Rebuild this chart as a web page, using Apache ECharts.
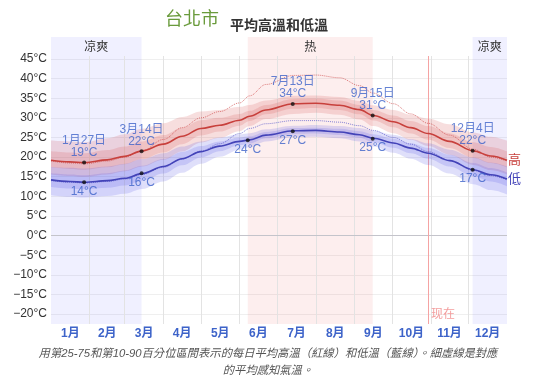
<!DOCTYPE html>
<html><head><meta charset="utf-8">
<script src="https://cdn.jsdelivr.net/npm/echarts@6/dist/echarts.min.js"></script>
<style>html,body{margin:0;padding:0;background:#fff}#c{width:539px;height:387px}</style>
</head><body><div id="c"></div>
<script>
// ---- data (day of year, 0 = 1 Jan) ----
const days      = [0, 15, 27, 45, 59, 73, 90, 105, 120, 135, 151, 159, 172, 194, 212, 231, 247, 258, 274, 288, 302, 319, 338, 352, 365];
const highMean  = [19.2, 18.8, 18.6, 19.3, 20.2, 21.6, 23.3, 25.3, 27.3, 28.1, 29.4, 30.4, 32.0, 33.6, 33.7, 33.2, 32.1, 30.6, 29.0, 27.5, 26.0, 24.0, 21.6, 20.3, 19.2];
const highP10   = [15.6, 15.2, 15.0, 15.6, 16.4, 17.6, 19.3, 21.4, 23.7, 24.9, 26.6, 27.9, 29.7, 31.0, 31.3, 30.8, 29.6, 27.9, 26.1, 24.4, 22.8, 20.6, 18.0, 16.7, 15.6];
const highP25   = [17.4, 17.0, 16.8, 17.4, 18.2, 19.5, 21.2, 23.3, 25.5, 26.5, 28.0, 29.2, 30.9, 32.3, 32.5, 32.0, 30.9, 29.3, 27.6, 26.0, 24.4, 22.3, 19.8, 18.5, 17.4];
const highP75   = [21.5, 21.2, 21.0, 21.8, 22.7, 24.0, 25.6, 27.5, 29.4, 30.0, 31.0, 31.8, 33.3, 34.8, 34.9, 34.4, 33.3, 32.0, 30.6, 29.2, 27.9, 26.1, 23.8, 22.6, 21.5];
const highP90   = [24.2, 24.0, 23.8, 24.8, 25.8, 27.2, 28.6, 30.2, 31.6, 32.0, 32.8, 33.3, 34.4, 35.6, 35.7, 35.3, 34.3, 33.2, 32.0, 30.8, 29.8, 28.4, 26.3, 25.2, 24.2];
const lowMean   = [14.2, 13.8, 13.6, 14.0, 14.6, 15.8, 17.6, 19.6, 21.4, 22.8, 24.0, 24.4, 25.6, 26.7, 26.8, 26.4, 25.7, 24.8, 23.6, 22.3, 21.0, 19.1, 16.8, 15.5, 14.4];
const lowP10    = [10.3, 9.9, 9.7, 10.1, 10.7, 11.9, 13.8, 16.0, 18.3, 20.1, 21.9, 22.5, 24.0, 25.1, 25.2, 24.8, 24.0, 22.7, 21.1, 19.6, 18.0, 15.8, 13.1, 11.6, 10.5];
const lowP25    = [12.4, 12.0, 11.8, 12.2, 12.8, 14.0, 15.8, 17.9, 19.9, 21.5, 23.0, 23.5, 24.8, 25.9, 26.0, 25.6, 24.9, 23.8, 22.4, 21.0, 19.6, 17.6, 15.1, 13.8, 12.6];
const lowP75    = [15.9, 15.6, 15.4, 15.9, 16.6, 17.8, 19.5, 21.3, 22.8, 24.0, 25.0, 25.3, 26.4, 27.4, 27.5, 27.2, 26.6, 25.8, 24.7, 23.5, 22.3, 20.6, 18.5, 17.2, 16.1];
const lowP90    = [17.5, 17.3, 17.1, 17.6, 18.3, 19.5, 21.0, 22.7, 24.0, 25.0, 25.8, 26.1, 27.1, 28.0, 28.2, 27.9, 27.4, 26.7, 25.7, 24.6, 23.5, 21.9, 19.9, 18.6, 17.6];
const feelsHigh = [19.0, 18.5, 18.3, 19.0, 20.0, 21.6, 24.5, 27.5, 30.0, 31.6, 33.8, 35.6, 38.5, 40.8, 40.9, 40.2, 38.2, 36.3, 33.6, 31.0, 28.6, 25.6, 22.0, 20.0, 19.0];
const feelsLow  = [14.0, 13.6, 13.4, 13.8, 14.4, 15.6, 17.4, 19.5, 21.5, 23.4, 26.0, 27.3, 28.5, 29.3, 29.3, 28.9, 28.0, 26.8, 25.0, 23.3, 21.4, 19.2, 16.6, 15.3, 14.2];

const annoDays  = [26.5, 72.5, 157.5, 193.5, 257.5, 337.5];
const annoDates = ['1月27日', '3月14日', '', '7月13日', '9月15日', '12月4日'];
const annoHigh  = [18.6, 21.5, null, 33.5, 30.6, 21.6];
const annoLow   = [13.6, 15.9, 24.3, 26.6, 24.7, 16.8];

const seasons   = [[0, 72.5, '凉爽'], [157.5, 257.5, '热'], [337.5, 365, '凉爽']];
const nowDay    = 301.8;
const nowLabel  = '现在';

const monthLabels = ['1月','2月','3月','4月','5月','6月','7月','8月','9月','10月','11月','12月'];
const monthMids   = [15.5, 45, 74.5, 105, 135.5, 166, 196.5, 227.5, 258, 288.5, 319, 349.5];
const monthStarts = [31, 59, 90, 120, 151, 181, 212, 243, 273, 304, 334];
const yTicks      = [45, 40, 35, 30, 25, 20, 15, 10, 5, 0, -5, -10, -15, -20];

const titleMain = '台北市';
const titleSub  = '平均高溫和低溫';
const caption   = '用第25-75和第10-90百分位區間表示的每日平均高溫（紅線）和低溫（藍線）。細虛線是對應\n的平均感知氣溫。';

// ---- chart ----
const FONT = "'Liberation Sans','Noto Sans CJK TC',sans-serif";
const BLUE_TXT = '#3d63c9';
const RED = '#c8403c', BLUEL = '#4343b8';
const SM = 0.35;
const pts = a => days.map((d, i) => [d, a[i]]);
// band data is given as [value, day] with encode so that the value column is the stacked one
const ptsYX = a => days.map((d, i) => [a[i], d]);
const diffYX = (a, b) => days.map((d, i) => [+(a[i] - b[i]).toFixed(3), d]);

function band(lo, hi, name, color) {
  return [
    {type: 'line', stack: name, data: ptsYX(lo), encode: {x: 1, y: 0}, smooth: SM, smoothMonotone: 'x', symbol: 'none', silent: true,
     lineStyle: {opacity: 0}, z: 3},
    {type: 'line', stack: name, data: diffYX(hi, lo), encode: {x: 1, y: 0}, smooth: SM, smoothMonotone: 'x', symbol: 'none', silent: true,
     lineStyle: {opacity: 0}, areaStyle: {color: color, opacity: 1}, z: 3}
  ];
}
const redBand = 'rgba(214,80,80,0.19)';
const blueBand = 'rgba(80,80,225,0.18)';
const coolColor = 'rgba(110,110,255,0.1)', hotColor = 'rgba(240,90,90,0.1)';

const fmtT = v => (v < 0 ? '\u2212' + (-v) : v) + '°C';

const highPts = [], lowPts = [];
annoDays.forEach((d, i) => {
  if (annoHigh[i] != null) highPts.push({value: [d, annoHigh[i]], label: {formatter: annoDates[i] + '\n' + Math.round(annoHigh[i]) + '°C'}});
  lowPts.push({value: [d, annoLow[i]], label: {formatter: Math.round(annoLow[i]) + '°C'}});
});

const option = {
  animation: false,
  textStyle: {fontFamily: FONT},
  title: [
    {text: titleMain, left: 165, top: 11, padding: 0, textStyle: {fontSize: 18, fontWeight: 'normal', color: '#6a9b3c', fontFamily: FONT}},
    {text: titleSub, left: 230, top: 19, padding: 0, textStyle: {fontSize: 14, fontWeight: 'bold', color: '#333', fontFamily: FONT}},
    {text: caption, left: 268, top: 345, textAlign: 'center', padding: 0,
     textStyle: {fontSize: 11.3, fontStyle: 'italic', fontWeight: 'normal', color: '#555', lineHeight: 17, fontFamily: FONT}}
  ],
  grid: [
    {left: 51, right: 32, top: 56, bottom: 63},
    {left: 51, right: 32, top: 37, height: 19}
  ],
  xAxis: [
    {type: 'value', gridIndex: 0, min: 0, max: 365,
     splitLine: {show: false}, axisLine: {show: false},
     axisTick: {show: true, customValues: monthStarts, length: 4, lineStyle: {color: '#e3e3e3'}},
     axisLabel: {customValues: monthMids, margin: 4, color: BLUE_TXT, fontSize: 12, fontWeight: 'bold', fontFamily: FONT,
       formatter: v => { let k = 0, best = 1e9; monthMids.forEach((m, i) => { if (Math.abs(m - v) < best) { best = Math.abs(m - v); k = i; } }); return monthLabels[k]; }}},
    {type: 'value', gridIndex: 1, min: 0, max: 365, show: false}
  ],
  yAxis: [
    {type: 'value', gridIndex: 0, min: -22.5, max: 45.75, splitNumber: 14,
     axisLine: {show: false}, axisTick: {show: false},
     splitLine: {show: true, showMinLine: false, showMaxLine: false, lineStyle: {color: '#efefef'}},
     axisLabel: {margin: 4, color: '#333', fontSize: 12, fontFamily: FONT,
       formatter: v => (yTicks.indexOf(Math.round(v * 1000) / 1000) >= 0 ? fmtT(v) : '')}},
    {type: 'value', gridIndex: 1, min: 0, max: 1, show: false}
  ],
  series: [
    {type: 'line', xAxisIndex: 0, yAxisIndex: 0, data: [], silent: true, z: 1,
     markArea: {silent: true, z: 1, label: {show: false},
       data: seasons.map(s => [{xAxis: s[0], itemStyle: {color: s[2] === '热' ? hotColor : coolColor}}, {xAxis: s[1]}])},
     markLine: {silent: true, z: 2, symbol: ['none', 'none'], label: {show: false},
       data: monthStarts.map(m => ({xAxis: m, lineStyle: {color: '#e3e3e3', width: 1, type: 'solid'}}))
         .concat([{yAxis: 0, lineStyle: {color: '#c4c4cb', width: 1, type: 'solid'}},
                  {xAxis: nowDay, lineStyle: {color: '#f5a3a3', width: 1, type: 'solid'}}])}},
    {type: 'line', xAxisIndex: 1, yAxisIndex: 1, data: [], silent: true, z: 1,
     markArea: {silent: true, z: 1,
       label: {show: true, position: 'inside', offset: [0, 1], color: '#333', fontSize: 12, fontFamily: FONT},
       data: seasons.map(s => [{xAxis: s[0], name: s[2], itemStyle: {color: s[2] === '热' ? hotColor : coolColor}}, {xAxis: s[1]}])}},
    ...band(highP10, highP90, 'hOut', redBand),
    ...band(highP25, highP75, 'hIn', redBand),
    ...band(lowP10, lowP90, 'lOut', blueBand),
    ...band(lowP25, lowP75, 'lIn', blueBand),
    {type: 'line', data: pts(feelsHigh), smooth: SM, smoothMonotone: 'x', symbol: 'none', silent: true, z: 4,
     lineStyle: {color: 'rgba(205,70,70,0.7)', width: 1, type: 'dotted'}},
    {type: 'line', data: pts(feelsLow), smooth: SM, smoothMonotone: 'x', symbol: 'none', silent: true, z: 4,
     lineStyle: {color: 'rgba(80,80,200,0.7)', width: 1, type: 'dotted'}},
    {type: 'line', data: pts(highMean), smooth: SM, smoothMonotone: 'x', symbol: 'none', silent: true, z: 5,
     lineStyle: {color: RED, width: 1.6},
     endLabel: {show: true, formatter: '高', color: RED, fontSize: 13, distance: 1, fontFamily: FONT}},
    {type: 'line', data: pts(lowMean), smooth: SM, smoothMonotone: 'x', symbol: 'none', silent: true, z: 5,
     lineStyle: {color: BLUEL, width: 1.6},
     endLabel: {show: true, formatter: '低', color: BLUEL, fontSize: 13, distance: 1, fontFamily: FONT}},
    {type: 'scatter', data: highPts, symbolSize: 4, itemStyle: {color: '#111'}, silent: true, z: 6,
     label: {show: true, position: 'top', distance: 2, color: BLUE_TXT, fontSize: 12, lineHeight: 12, align: 'center', fontFamily: FONT}},
    {type: 'scatter', data: lowPts, symbolSize: 4, itemStyle: {color: '#111'}, silent: true, z: 6,
     label: {show: true, position: 'bottom', distance: 1, color: BLUE_TXT, fontSize: 12, fontFamily: FONT}},
    {type: 'scatter', data: [[nowDay, -20.1]], symbolSize: 0, silent: true, z: 6,
     label: {show: true, position: 'right', distance: 3, formatter: nowLabel, color: '#f08585', fontSize: 12, fontFamily: FONT}}
  ]
};
const chart = echarts.init(document.getElementById('c'));
chart.setOption(option);
</script>
</body></html>
